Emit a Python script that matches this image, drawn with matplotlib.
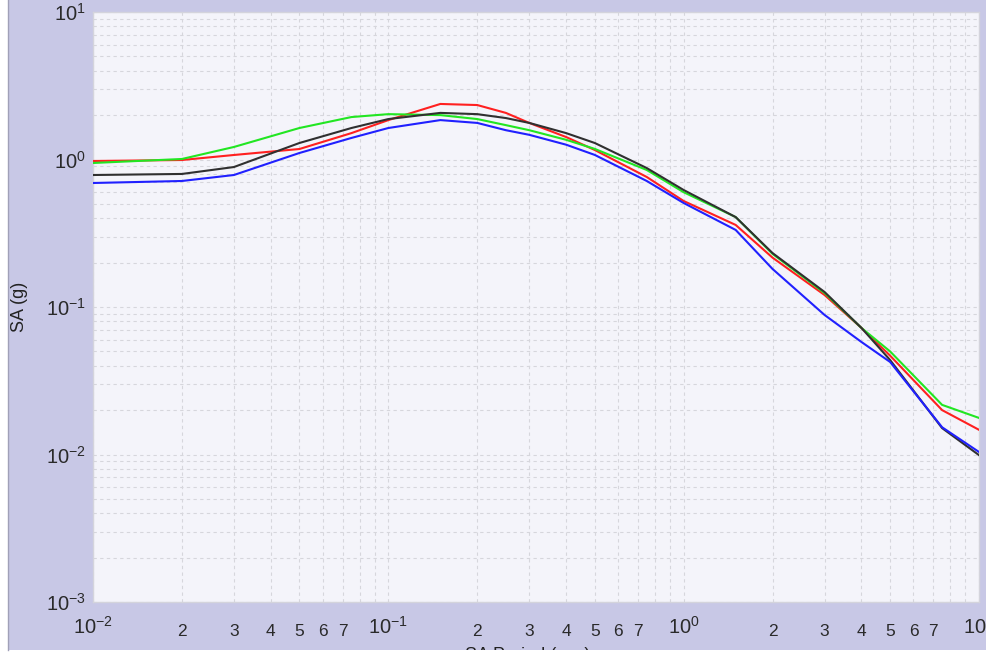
import matplotlib
matplotlib.use("Agg")
import matplotlib.pyplot as plt
from matplotlib.patches import Rectangle
from matplotlib.ticker import FixedLocator, FuncFormatter
import numpy as np

periods = [0.01, 0.02, 0.03, 0.05, 0.075, 0.1, 0.15, 0.2, 0.25, 0.3, 0.4, 0.5,
           0.75, 1.0, 1.5, 2.0, 3.0, 4.0, 5.0, 7.5, 10.0]
sa_red = [0.977, 0.992, 1.073, 1.178, 1.51, 1.85, 2.38, 2.34, 2.07, 1.77, 1.42, 1.16,
          0.761, 0.523, 0.360, 0.216, 0.1206, 0.0721, 0.0468, 0.0200, 0.0147]
sa_green = [0.947, 1.008, 1.216, 1.635, 1.94, 2.03, 2.00, 1.88, 1.71, 1.58, 1.36, 1.18,
            0.849, 0.600, 0.407, 0.229, 0.1244, 0.0721, 0.0500, 0.0217, 0.0177]
sa_black = [0.785, 0.798, 0.889, 1.294, 1.635, 1.88, 2.07, 2.03, 1.91, 1.77, 1.51, 1.294,
            0.875, 0.621, 0.407, 0.232, 0.1264, 0.0721, 0.0437, 0.0151, 0.0099]
sa_blue = [0.693, 0.715, 0.785, 1.107, 1.40, 1.635, 1.85, 1.77, 1.58, 1.47, 1.26, 1.074,
           0.715, 0.507, 0.333, 0.181, 0.0883, 0.0579, 0.0424, 0.0153, 0.0104]

x_major = [0.01, 0.1, 1.0, 10.0]
y_major = [0.001, 0.01, 0.1, 1.0, 10.0]
x_minor_labels = [2, 3, 4, 5, 6, 7]

plt.rcParams['font.family'] = ['Liberation Sans', 'DejaVu Sans']
plt.rcParams['mathtext.fontset'] = 'custom'
plt.rcParams['mathtext.rm'] = 'Liberation Sans'
plt.rcParams['mathtext.it'] = 'Liberation Sans'

W, H = 987, 655
fig = plt.figure(figsize=(W / 100, H / 100), dpi=100)
fig.patch.set_facecolor('#c8c8e6')

ax = fig.add_axes([93 / W, 1 - 602 / H, (979 - 93) / W, (602 - 12) / H])
ax.set_facecolor('#f4f4fa')
ax.set_xscale('log')
ax.set_yscale('log')
ax.set_xlim(0.01, 10)
ax.set_ylim(0.001, 10)

for s in ax.spines.values():
    s.set_color('#d4d4dc')
    s.set_linewidth(1.0)

ax.plot(periods, sa_red, color='#ff2020', lw=1.5, zorder=3)
ax.plot(periods, sa_green, color='#22e622', lw=1.5, zorder=3)
ax.plot(periods, sa_black, color='#303030', lw=1.5, zorder=3)
ax.plot(periods, sa_blue, color='#2020ff', lw=1.5, zorder=3)

# ticks
ax.xaxis.set_major_locator(FixedLocator(x_major))
ax.yaxis.set_major_locator(FixedLocator(y_major))
xminor = [m * 10.0 ** e for e in (-2, -1, 0) for m in range(2, 10)]
yminor = [m * 10.0 ** e for e in (-3, -2, -1, 0) for m in range(2, 10)]
ax.xaxis.set_minor_locator(FixedLocator(xminor))
ax.yaxis.set_minor_locator(FixedLocator(yminor))


def major_fmt(v, pos):
    e = int(round(np.log10(v)))
    return r'$10^{%d}$' % e


def xminor_fmt(v, pos):
    m = int(round(v / 10.0 ** np.floor(np.log10(v) + 1e-9)))
    return str(m) if m in x_minor_labels else ''


ax.xaxis.set_major_formatter(FuncFormatter(major_fmt))
ax.yaxis.set_major_formatter(FuncFormatter(major_fmt))
ax.xaxis.set_minor_formatter(FuncFormatter(xminor_fmt))
ax.yaxis.set_minor_formatter(FuncFormatter(lambda v, p: ''))

ax.tick_params(which='both', length=0, colors='#2a2a2a')
ax.tick_params(axis='x', which='major', labelsize=14.5, pad=10)
ax.tick_params(axis='x', which='minor', labelsize=12.5, pad=16)
ax.tick_params(axis='y', which='major', labelsize=14.5, pad=5)

ax.grid(True, which='both', color='#d6d6dc', lw=0.8, linestyle=(0, (3, 3)), zorder=1)
ax.set_axisbelow(True)

ax.set_ylabel('SA (g)', fontsize=13, color='#222222')
ax.yaxis.set_label_coords(-(93 - 28) / (979 - 93), 0.5)

fig.text(465 / W, 1 - 647.5 / H, 'SA Period (sec)', fontsize=13, color='#222222',
         ha='left', va='top', zorder=5)

# white borders
fig.patches.append(Rectangle((0, 0), 8 / W, 1, transform=fig.transFigure,
                             facecolor='white', edgecolor='none', zorder=10))
fig.patches.append(Rectangle((0, 0), 1, 5 / H, transform=fig.transFigure,
                             facecolor='white', edgecolor='none', zorder=10))
fig.lines.append(plt.Line2D([8.5 / W, 8.5 / W], [5 / H, 1], transform=fig.transFigure,
                            color='#a0a0b8', lw=1, zorder=11))

fig.savefig('out.png', dpi=100, facecolor=fig.get_facecolor())
